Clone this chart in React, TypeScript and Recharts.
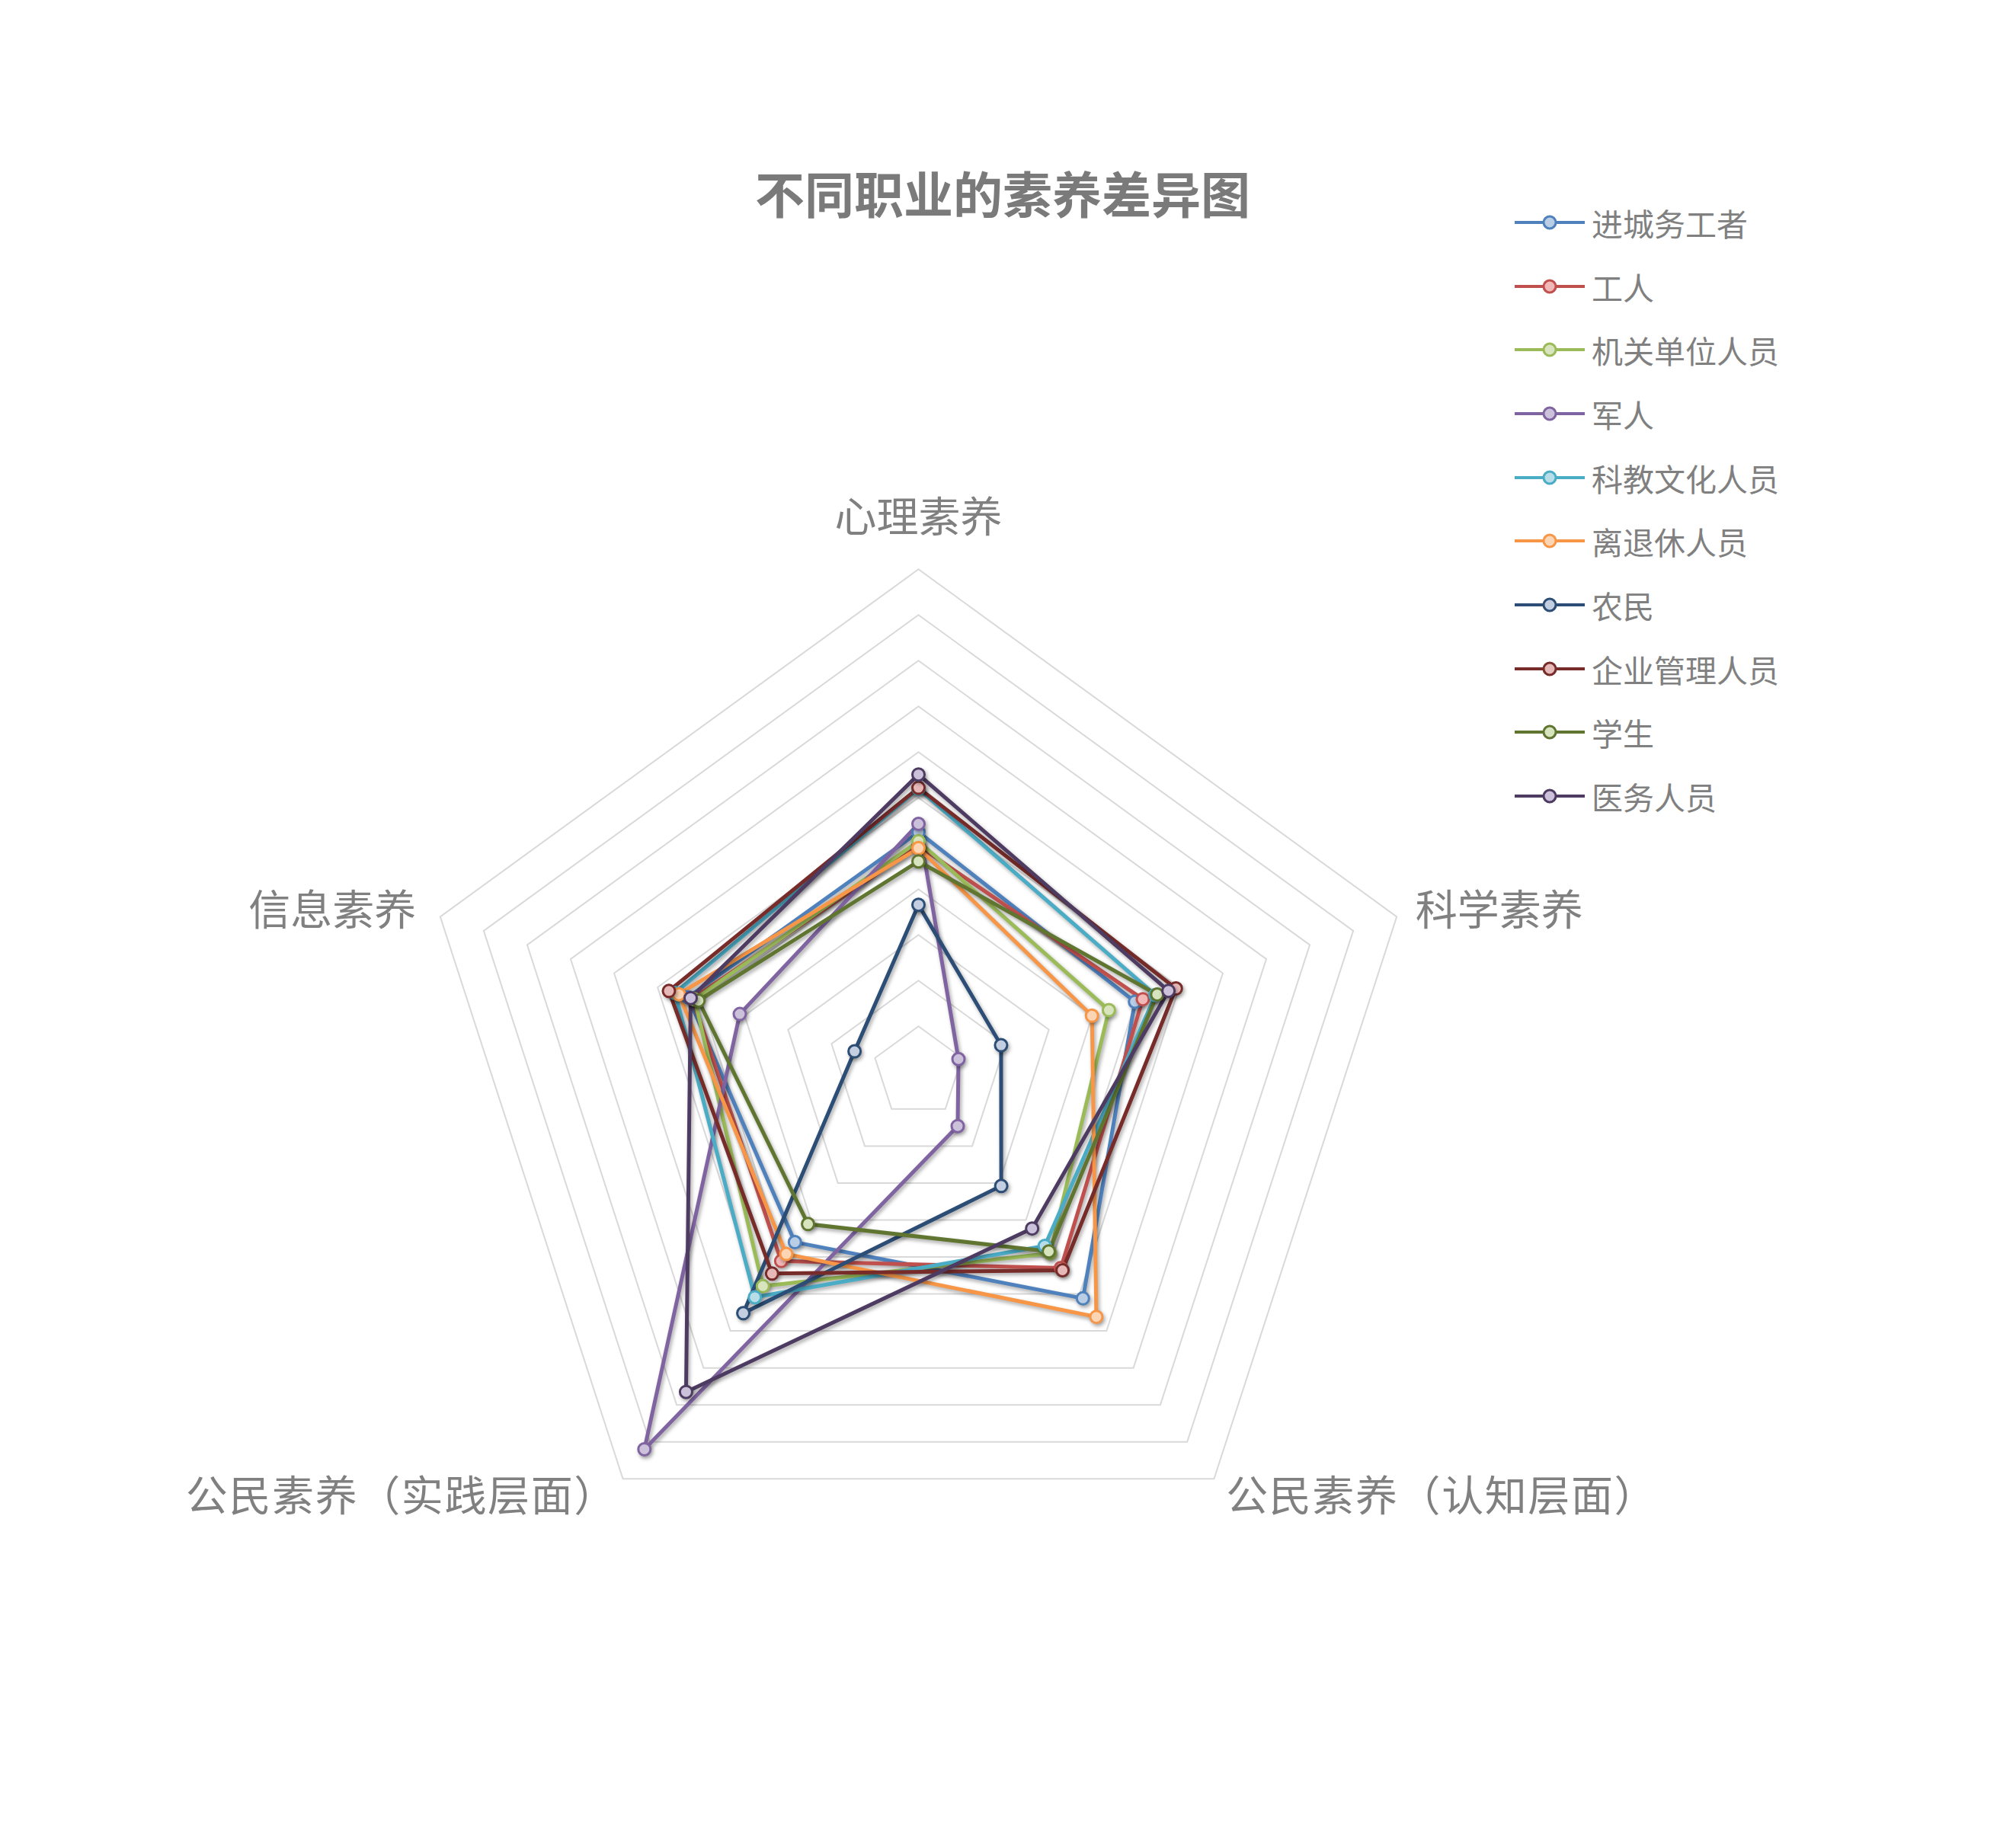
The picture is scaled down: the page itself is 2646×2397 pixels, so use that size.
import React from 'react';
import {
  RadarChart,
  Radar,
  PolarGrid,
  PolarAngleAxis,
  PolarRadiusAxis,
  Legend,
} from 'recharts';

// axis categories (clockwise from top)
const categories = ['心理素养', '科学素养', '公民素养（认知层面）', '公民素养（实践层面）', '信息素养'];

// series values, same order as categories (in ring units)
const migrantWorkers = [5.25, 4.98, 6.12, 4.6, 5.3];
const workers = [4.95, 5.16, 5.3, 5.11, 5.2];
const civilServants = [5.05, 4.38, 4.9, 5.79, 5.15];
const soldiers = [5.43, 0.92, 1.46, 10.2, 4.11];
const educators = [6.2, 5.45, 4.7, 6.09, 5.6];
const retirees = [4.9, 3.99, 6.62, 4.92, 5.51];
const farmers = [3.66, 1.9, 3.08, 6.52, 1.47];
const managers = [6.22, 5.92, 5.36, 5.45, 5.74];
const students = [4.61, 5.49, 4.85, 4.11, 5.06];
const medicalStaff = [6.51, 5.75, 4.23, 8.65, 5.24];

const seriesNames = ['进城务工者', '工人', '机关单位人员', '军人', '科教文化人员', '离退休人员', '农民', '企业管理人员', '学生', '医务人员'];
const seriesValues = [migrantWorkers, workers, civilServants, soldiers, educators, retirees, farmers, managers, students, medicalStaff];

const ringTicks = [0, 1, 2, 3, 4, 5, 6, 7, 8, 9, 10, 11];

const lineColors = ['#4F81BD', '#C0504D', '#9BBB59', '#8064A2', '#4BACC6', '#F79646', '#2C4D75', '#772C2A', '#5F7530', '#4D3B62'];
const markerFills = ['#B9CDE5', '#F2B8B7', '#D7E4BD', '#CCC1DA', '#B7DEE8', '#FCD5B5', '#C3CFE0', '#E6B9B8', '#D7E4BD', '#CCC1DA'];

const data = categories.map((subject, i) => {
  const row: { [key: string]: any } = { subject };
  seriesNames.forEach((name, s) => {
    row[name] = seriesValues[s][i];
  });
  return row;
});

const FONT = "'Noto Sans CJK SC', 'Noto Sans', sans-serif";
const TEXT_GRAY = '#808080';

// nudges for each axis label, relative to the point recharts gives
const labelOffsets = [
  [0, -65],
  [17, -11],
  [11, 11],
  [-3, 11],
  [-24, -11],
];

function AngleTick(props: any) {
  const { x, y, payload, textAnchor } = props;
  const idx = categories.indexOf(payload.value);
  const [dx, dy] = labelOffsets[idx] || [0, 0];
  const wide = payload.value.indexOf('（') >= 0;
  return (
    <text
      x={x + dx}
      y={y + dy}
      textAnchor={textAnchor}
      dominantBaseline="central"
      fontSize={55}
      letterSpacing={wide ? 1.6 : 0}
      fill={TEXT_GRAY}
      fontFamily={FONT}
    >
      {payload.value}
    </text>
  );
}

// legend drawn in series order (recharts would sort it otherwise)
function LegendContent() {
  return (
    <div>
      {seriesNames.map((name, i) => (
        <div key={name} style={{ height: 83.7, display: 'flex', alignItems: 'center' }}>
          <svg width={92} height={26}>
            <line x1={0} y1={13} x2={92} y2={13} stroke={lineColors[i]} strokeWidth={4} />
            <circle cx={46} cy={13} r={8} fill={markerFills[i]} stroke={lineColors[i]} strokeWidth={3} />
          </svg>
          <span style={{ marginLeft: 9, fontSize: 41, color: TEXT_GRAY, fontFamily: FONT, whiteSpace: 'nowrap' }}>
            {name}
          </span>
        </div>
      ))}
    </div>
  );
}

export default function App() {
  return (
    <div style={{ position: 'relative', width: 2630, height: 2381, background: '#fff' }}>
      <style>{`.recharts-radar-polygon, .recharts-radar-dots { filter: drop-shadow(2px 3px 2.5px rgba(0,0,0,0.35)); }`}</style>
      <div
        style={{
          position: 'absolute',
          left: 1308,
          top: 244,
          transform: 'translate(-50%, -50%)',
          fontFamily: FONT,
          fontWeight: 700,
          fontSize: 65,
          color: '#7a7a7a',
          whiteSpace: 'nowrap',
          zIndex: 2,
        }}
      >
        不同职业的素养差异图
      </div>
      <RadarChart
        width={2630}
        height={2381}
        data={data}
        cx={1197.5}
        cy={1399.3}
        outerRadius={660}
        margin={{ top: 0, right: 0, bottom: 0, left: 0 }}
      >
        <PolarGrid gridType="polygon" radialLines={false} stroke="#d9d9d9" strokeWidth={2} />
        <PolarAngleAxis dataKey="subject" tick={AngleTick} tickLine={false} axisLine={false} />
        <PolarRadiusAxis domain={[0, 11]} ticks={ringTicks} tickCount={12} tick={false} axisLine={false} />
        {seriesNames.map((name, i) => (
          <Radar
            key={name}
            name={name}
            dataKey={name}
            stroke={lineColors[i]}
            strokeWidth={5}
            fill="none"
            fillOpacity={0}
            dot={{ r: 8, fill: markerFills[i], stroke: lineColors[i], strokeWidth: 3, fillOpacity: 1 }}
            isAnimationActive={false}
          />
        ))}
        <Legend
          layout="vertical"
          align="right"
          verticalAlign="top"
          content={LegendContent}
          wrapperStyle={{ position: 'absolute', left: 1980, top: 242, width: 560 }}
        />
      </RadarChart>
    </div>
  );
}
